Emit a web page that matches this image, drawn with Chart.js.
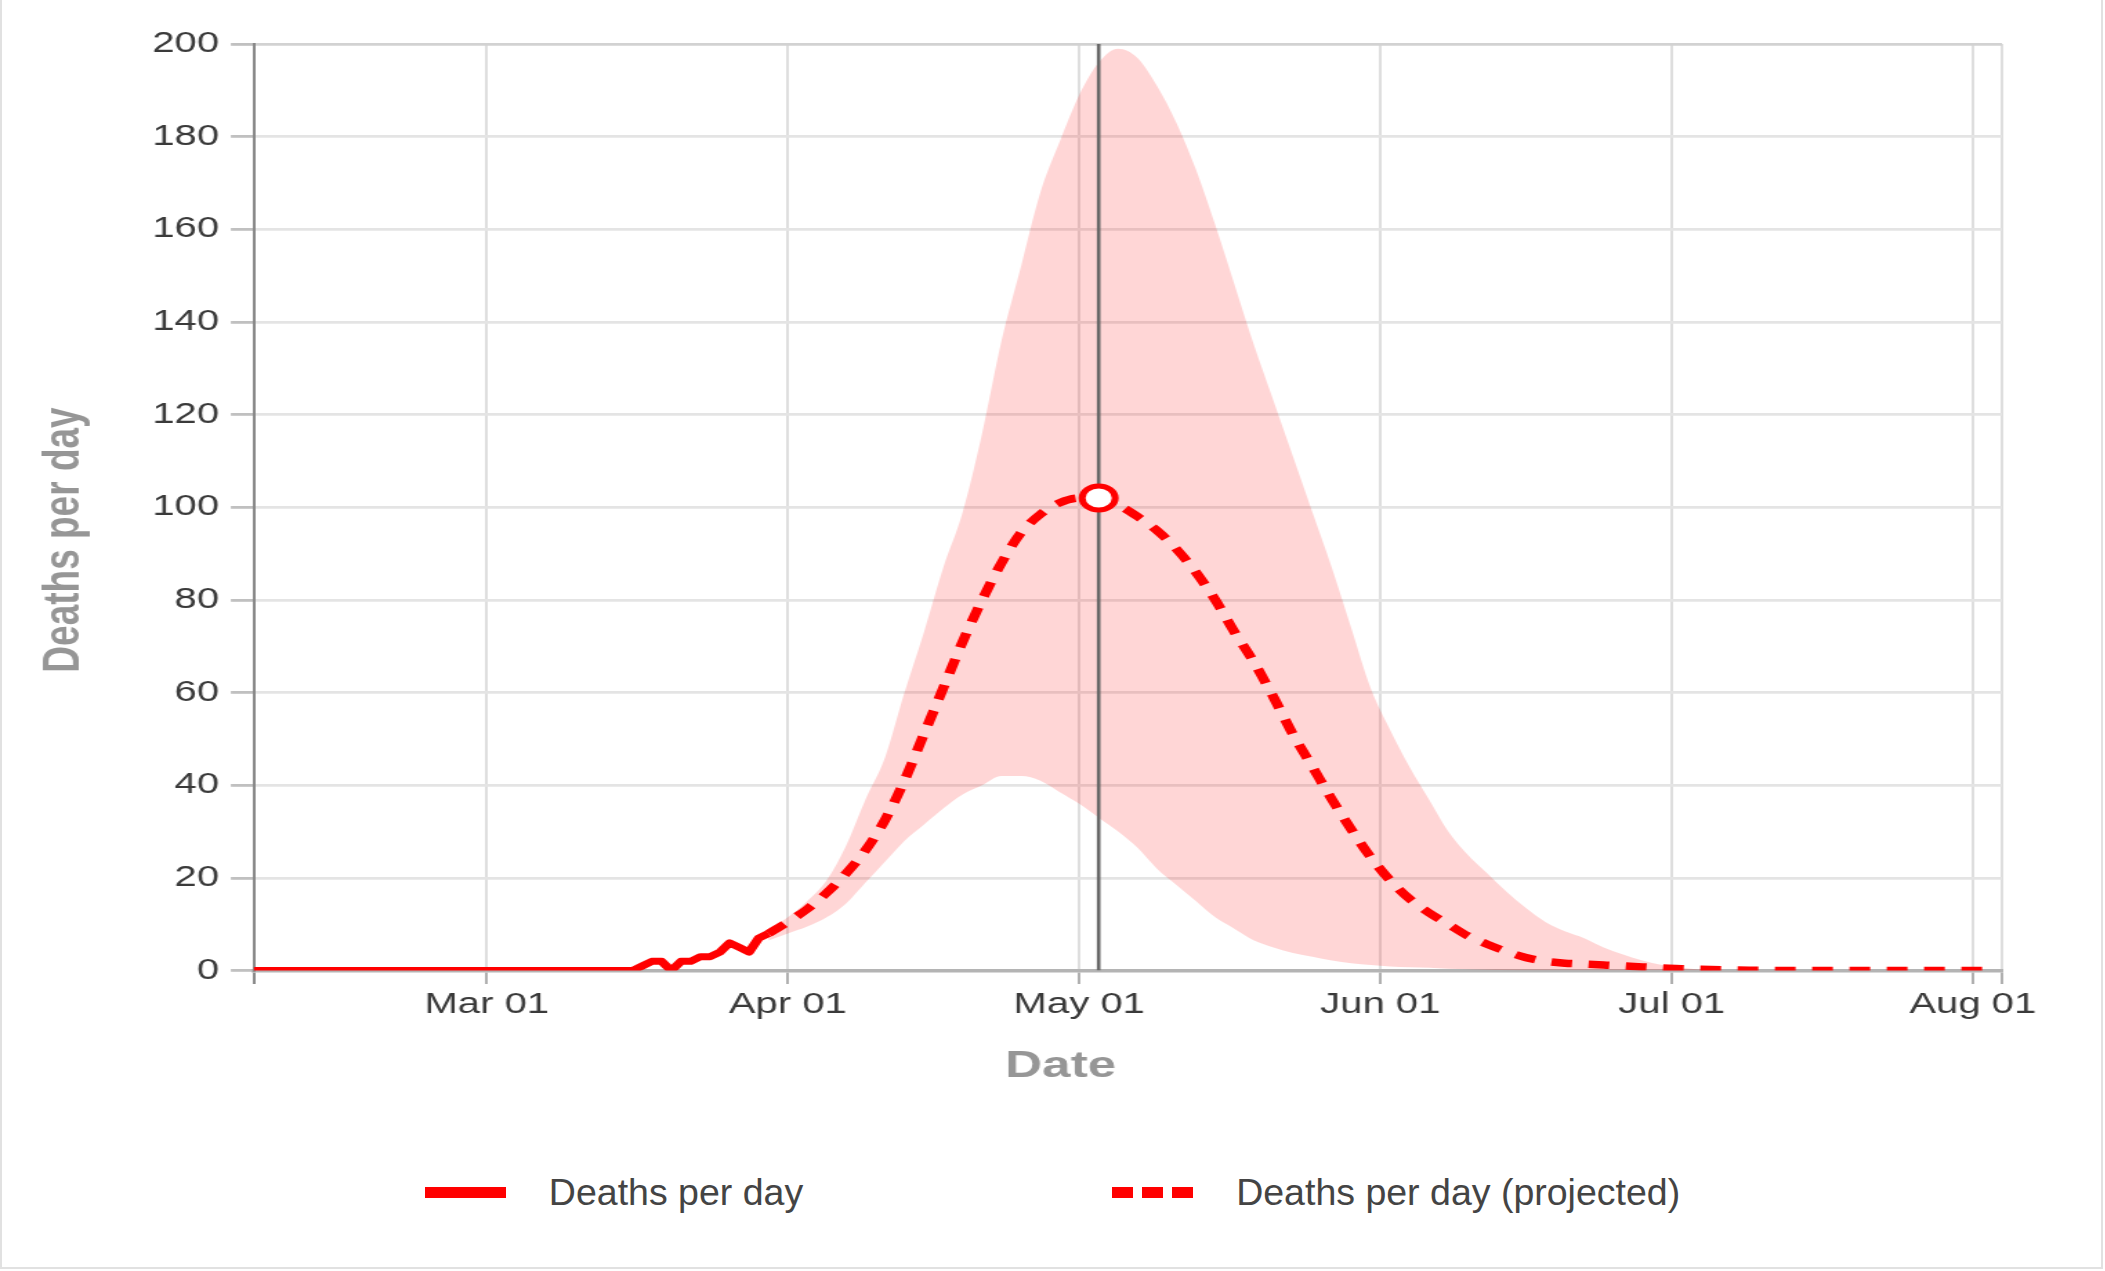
<!DOCTYPE html>
<html>
<head>
<meta charset="utf-8">
<title>Deaths per day</title>
<script src="https://cdn.jsdelivr.net/npm/chart.js@4.4.1/dist/chart.umd.min.js"></script>
<style>
  html, body { margin: 0; padding: 0; background: #fff; }
  body { width: 2105px; height: 1271px; position: relative; overflow: hidden; font-family: 'Liberation Sans', Arial, sans-serif; }
  .frame { position: absolute; left: 0; top: 0; width: 2099px; height: 1267px; border: 2px solid #e1e1e1; border-top: none; }
  /* the chart is drawn narrow and stretched sideways, like the reference */
  #chartWrap { position: absolute; left: 0; top: 0; width: 1520px; height: 1100px; transform: scaleX(1.3816); transform-origin: 0 0; }
  #legend { position: absolute; left: 0; top: 1170px; width: 2105px; height: 44px; display: flex; justify-content: center; align-items: center; gap: 309px; }
  .item { display: flex; align-items: center; font-size: 37.5px; color: #444; white-space: nowrap; }
  .swatch { width: 81px; height: 11px; margin-right: 43px; }
</style>
</head>
<body>
<div class="frame"></div>
<div id="chartWrap"><canvas id="deathsChart"></canvas></div>
<div id="legend"></div>

<script>
// x values are days counted from Mar 01 (Feb 06 = -24, Aug 04 = 156)
const xMin = -24;
const xMax = 156;
const tickDays = [0, 31, 61, 92, 122, 153];
const tickLabels = ['Mar 01', 'Apr 01', 'May 01', 'Jun 01', 'Jul 01', 'Aug 01'];

const xTitle = 'Date';
const yTitle = 'Deaths per day';

// reported deaths
const actualDays = [-24, 15, 16, 17, 18, 19, 20, 21, 22, 23, 24, 25, 26, 27, 28, 29];
const actualDeaths = [0, 0, 1, 2, 2, 0, 2, 2, 3, 3, 4, 6, 5, 4, 7, 8];

// projected deaths
const projDays = [29, 31, 33, 35, 37, 39, 41, 43, 45, 47, 49, 51, 53, 55, 57, 59, 61, 63, 65, 67,
  69, 71, 73, 75, 77, 79, 81, 83, 85, 87, 89, 91, 93, 95, 97, 99, 101, 103, 105, 107,
  109, 111, 113, 115, 117, 119, 121, 123, 125, 130, 135, 154];
const projDeaths = [8, 10.5, 13.3, 16.8, 21, 26, 32.5, 41, 51, 61, 71, 80, 88, 94.5, 98.5, 101, 102, 102, 100.5, 98,
  95, 91, 86, 80, 73, 66.5, 59, 51, 44, 37, 30.5, 24.5, 19.5, 15.5, 12.5, 10, 7.5, 5.7, 4.1, 2.8,
  2, 1.6, 1.4, 1.2, 1, 0.8, 0.6, 0.4, 0.3, 0.1, 0, 0];

// uncertainty band
const bandDays = [29, 31, 33, 35, 37, 39, 41, 43, 45, 47, 49, 51, 53, 55, 57, 59, 61, 63, 65, 67,
  69, 71, 73, 75, 77, 79, 81, 83, 85, 87, 89, 91, 93, 95, 97, 99, 101, 103, 105, 107,
  109, 111, 113, 115, 117, 119, 121, 123, 125, 130];
const bandUpper = [9, 11.5, 15, 19.5, 27, 37, 46, 60, 73, 87, 99, 116, 136, 152, 168, 179, 189, 196, 199, 197,
  191, 183, 173, 161, 148, 135, 123, 111, 99, 87, 74, 61, 52, 44, 37, 30, 25, 21, 17, 13.5,
  10.5, 8.5, 7, 5, 3.5, 2.2, 1.2, 0.6, 0.2, 0];
const bandLower = [6.5, 8, 9.5, 11.5, 14.5, 19, 23.5, 28, 31.5, 35, 38, 40, 42, 42, 41, 38.5, 36, 33, 30, 26.5,
  22, 18.5, 15, 11.5, 9, 6.5, 5, 3.8, 3, 2.2, 1.6, 1.2, 0.9, 0.7, 0.6, 0.4, 0.3, 0.2, 0.1, 0,
  0, 0, 0, 0, 0, 0, 0, 0, 0, 0];

// peak marker and the vertical line through it
const peakDays = [63];
const peakDeaths = [102];
const peakLineDays = [63, 63];
const peakLineValues = [0, 200];

const red = '#ff0000';

function toPoints(xs, ys) {
    return xs.map((x, i) => ({ x: x, y: ys[i] }));
}

Chart.defaults.font.family = "'Liberation Sans', Arial, sans-serif";

// axis titles sit off-centre in the reference, so they are placed by hand
const axisTitles = {
    id: 'axisTitles',
    afterDraw(chart) {
        const ctx = chart.ctx;
        ctx.save();
        ctx.font = 'bold 37px "Liberation Sans", Arial, sans-serif';
        ctx.fillStyle = '#969696';
        ctx.textAlign = 'center';
        ctx.textBaseline = 'middle';
        ctx.fillText(xTitle, 767.7, 1067);
        ctx.translate(46.7, 540);
        ctx.rotate(-Math.PI / 2);
        ctx.fillText(yTitle, 0, 0);
        ctx.restore();
    }
};

const chart = new Chart(document.getElementById('deathsChart'), {
    type: 'line',
    data: {
        datasets: [
            {
                label: 'peak',
                data: toPoints(peakDays, peakDeaths),
                showLine: false,
                pointRadius: 12,
                pointBorderWidth: 5,
                pointBackgroundColor: '#ffffff',
                pointBorderColor: red
            },
            {
                label: 'peak day',
                data: toPoints(peakLineDays, peakLineValues),
                borderColor: '#666666',
                borderWidth: 2.6,
                pointRadius: 0
            },
            {
                label: 'Deaths per day (projected)',
                data: toPoints(projDays, projDeaths),
                borderColor: red,
                borderWidth: 7.5,
                borderDash: [15, 12],
                pointRadius: 0,
                cubicInterpolationMode: 'monotone',
                legendRank: 2
            },
            {
                label: 'Deaths per day',
                data: toPoints(actualDays, actualDeaths),
                borderColor: red,
                borderWidth: 7,
                borderJoinStyle: 'round',
                pointRadius: 0,
                tension: 0,
                legendRank: 1
            },
            {
                label: 'upper',
                data: toPoints(bandDays, bandUpper),
                borderColor: 'transparent',
                borderWidth: 0,
                backgroundColor: 'rgba(255, 0, 0, 0.16)',
                fill: '+1',
                pointRadius: 0,
                cubicInterpolationMode: 'monotone'
            },
            {
                label: 'lower',
                data: toPoints(bandDays, bandLower),
                borderColor: 'transparent',
                borderWidth: 0,
                fill: false,
                pointRadius: 0,
                cubicInterpolationMode: 'monotone'
            }
        ]
    },
    options: {
        responsive: true,
        maintainAspectRatio: false,
        animation: false,
        events: [],
        layout: { padding: { top: 44, right: 71, bottom: 0, left: 0 } },
        plugins: {
            legend: { display: false },
            tooltip: { enabled: false }
        },
        scales: {
            x: {
                type: 'linear',
                min: xMin,
                max: xMax,
                afterBuildTicks: scale => {
                    scale.ticks = [xMin].concat(tickDays, [xMax]).map(v => ({ value: v }));
                },
                afterFit: scale => { scale.height = 129.4; },
                grid: {
                    color: c => (c.tick && c.tick.value === xMin) ? '#8a8a8a' : '#dedede',
                    tickColor: c => (c.tick && c.tick.value === xMin) ? '#8a8a8a' : '#b0b0b0',
                    lineWidth: 2,
                    tickWidth: 2,
                    tickLength: 13.4
                },
                border: { color: '#b4b4b4', width: 3.5 },
                ticks: {
                    autoSkip: false,
                    maxRotation: 0,
                    padding: 4,
                    color: '#3a3a3a',
                    font: { size: 29 },
                    callback: value => {
                        const i = tickDays.indexOf(value);
                        return i >= 0 ? tickLabels[i] : '';
                    }
                }
            },
            y: {
                min: 0,
                max: 200,
                afterFit: scale => { scale.width = 183.6; },
                grid: {
                    color: c => (c.tick && c.tick.value === 200) ? '#d2d2d2' : '#e4e4e4',
                    tickColor: '#c0c0c0',
                    lineWidth: 2.8,
                    tickWidth: 2.8,
                    tickLength: 16.5
                },
                border: { color: '#888888', width: 2 },
                ticks: {
                    stepSize: 20,
                    padding: 8.5,
                    color: '#3a3a3a',
                    font: { size: 29 }
                }
            }
        }
    },
    plugins: [axisTitles]
});

// html legend below the stretched canvas
const legendEl = document.getElementById('legend');
chart.data.datasets
    .filter(ds => ds.legendRank)
    .sort((a, b) => a.legendRank - b.legendRank)
    .forEach(ds => {
        const item = document.createElement('div');
        item.className = 'item';
        const swatch = document.createElement('span');
        swatch.className = 'swatch';
        if (ds.borderDash) {
            swatch.style.background = 'repeating-linear-gradient(to right, ' + ds.borderColor + ' 0 21px, transparent 21px 30px)';
        } else {
            swatch.style.background = ds.borderColor;
        }
        const text = document.createElement('span');
        text.textContent = ds.label;
        item.appendChild(swatch);
        item.appendChild(text);
        legendEl.appendChild(item);
    });
</script>
</body>
</html>
